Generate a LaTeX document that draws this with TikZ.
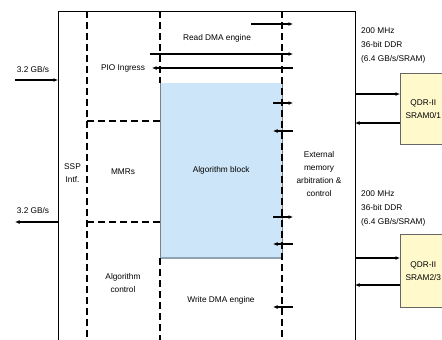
\documentclass[tikz,border=0pt]{standalone}
\usepackage{fontspec}
\setmainfont{Liberation Sans}
\usetikzlibrary{arrows.meta}
\definecolor{algblue}{HTML}{CDE5F8}
\definecolor{algedge}{HTML}{8EA4B4}
\definecolor{sramyel}{HTML}{FFF9CC}
\begin{document}
\begin{tikzpicture}[x=1bp,y=-1bp,
 lbl/.style={font=\fontsize{8.3bp}{13bp}\selectfont, align=center, inner sep=0},
 lblw/.style={font=\fontsize{8.3bp}{14bp}\selectfont, align=left, inner sep=0, anchor=west},
 conn/.style={line width=1.1bp, -{Latex[length=4.5bp,width=4bp]}},
 dsh/.style={line width=1.1bp, dash pattern=on 7bp off 4bp},
 srambox/.style={draw=gray!80!black, line width=0.6bp, fill=sramyel, inner sep=0, align=center,
   font=\fontsize{8.3bp}{13bp}\selectfont, anchor=north west, minimum width=46bp},
]
\useasboundingbox (0,0) rectangle (442,339);
\clip (0,0) rectangle (442,339);
\fill[white] (0,0) rectangle (442,339);

% algorithm block
\node[fill=algblue, anchor=north west, minimum width=122bp, minimum height=175bp, inner sep=0, lbl] (alg) at (160,83) {Algorithm block};
\draw[line width=0.5bp, gray] (alg.north west) -- (alg.south west);
\draw[line width=0.5bp, gray] (alg.north east) -- (alg.south east);
\draw[line width=2bp, algedge] (alg.south west) -- (alg.south east);

% outer chip box
\node[draw, line width=1.1bp, anchor=north west, minimum width=297bp, minimum height=340bp, inner sep=0] (chip) at (58,11) {};

% dashed partitions
\coordinate (d1t) at (87,11);   \coordinate (d1b) at (87,345);
\coordinate (d2t) at (160,11);  \coordinate (d2b) at (160,345);
\coordinate (d3t) at (282,11);  \coordinate (d3b) at (282,345);
\draw[dsh] (d1t) -- (d1b);
\draw[dsh] (d2t) -- (alg.north west);
\draw[dsh] (alg.south west) -- (d2b);
\draw[dsh] (d3t) -- (d3b);
\coordinate (h1a) at (87,121); \coordinate (h1b) at (160,121);
\coordinate (h2a) at (87,222); \coordinate (h2b) at (160,222);
\draw[dsh] (h1a) -- (h1b);
\draw[dsh] (h2a) -- (h2b);

% labels inside
\node[lbl] (rdma) at (217,38) {Read DMA engine};
\node[lbl] (pio) at (123,68) {PIO Ingress};
\node[lbl] (ssp) at (72.5,173) {SSP\\Intf.};
\node[lbl] (mmr) at (123,172) {MMRs};
\node[lbl] (ext) at (319,174) {External\\memory\\arbitration \&\\control};
\node[lbl] (actl) at (123,283) {Algorithm\\control};
\node[lbl] (wdma) at (221,300) {Write DMA engine};

% left host links
\node[lbl] (in32) at (33,70) {3.2 GB/s};
\node[lbl] (out32) at (33,211) {3.2 GB/s};
\coordinate (hinA) at (15,80);  \coordinate (hinB) at (58,80);
\coordinate (houA) at (58,222); \coordinate (houB) at (15,222);
\draw[conn] (hinA) -- (hinB);
\draw[conn] (houA) -- (houB);

% top DMA arrows
\coordinate (t1a) at (251,24);  \coordinate (t1b) at (293,24);
\coordinate (t2a) at (150,54);  \coordinate (t2b) at (293,54);
\coordinate (t3a) at (293,68);  \coordinate (t3b) at (152,68);
\draw[conn] (t1a) -- (t1b);
\draw[conn] (t2a) -- (t2b);
\draw[conn] (t3a) -- (t3b);

% arrows at the arbitration boundary
\coordinate (a1a) at (273,103); \coordinate (a1b) at (293,103);
\coordinate (a2a) at (293,131); \coordinate (a2b) at (273,131);
\coordinate (a3a) at (273,217); \coordinate (a3b) at (293,217);
\coordinate (a4a) at (293,244); \coordinate (a4b) at (273,244);
\coordinate (a5a) at (293,307); \coordinate (a5b) at (273,307);
\draw[conn] (a1a) -- (a1b);
\draw[conn] (a2a) -- (a2b);
\draw[conn] (a3a) -- (a3b);
\draw[conn] (a4a) -- (a4b);
\draw[conn] (a5a) -- (a5b);

% SRAMs
\node[srambox, minimum height=71bp] (s01) at (400,73) {QDR-II\\SRAM0/1};
\node[srambox, minimum height=73bp] (s23) at (400,234) {QDR-II\\SRAM2/3};
\node[lblw] (f1) at (361,45) {200 MHz\\36-bit DDR\\(6.4 GB/s/SRAM)};
\node[lblw] (f2) at (361,208) {200 MHz\\36-bit DDR\\(6.4 GB/s/SRAM)};
\coordinate (m1a) at (355,94);  \coordinate (m1b) at (400,94);
\coordinate (m2a) at (400,123); \coordinate (m2b) at (355,123);
\coordinate (m3a) at (355,258); \coordinate (m3b) at (400,258);
\coordinate (m4a) at (400,285); \coordinate (m4b) at (355,285);
\draw[conn] (m1a) -- (m1b);
\draw[conn] (m2a) -- (m2b);
\draw[conn] (m3a) -- (m3b);
\draw[conn] (m4a) -- (m4b);
\end{tikzpicture}
\end{document}
